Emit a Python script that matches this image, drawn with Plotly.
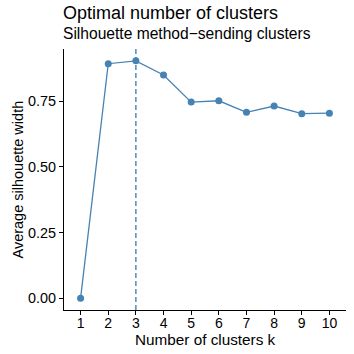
import plotly.graph_objects as go

k_values = [1, 2, 3, 4, 5, 6, 7, 8, 9, 10]
silhouette = [0.0, 0.892, 0.903, 0.849, 0.746, 0.751, 0.707, 0.731, 0.702, 0.704]
optimal_k = 3
y_ticks = [0.0, 0.25, 0.5, 0.75]
y_tick_labels = ["0.00", "0.25", "0.50", "0.75"]

title_text = "Optimal number of clusters"
subtitle_text = "Silhouette method\u2212sending clusters"
x_title = "Number of clusters k"
y_title = "Average silhouette width"

color = "#4682B4"
font = "Liberation Sans, Arial, sans-serif"

fig = go.Figure()
fig.add_trace(go.Scatter(
    x=k_values, y=silhouette, mode="lines+markers",
    line=dict(color=color, width=1.3),
    marker=dict(color=color, size=7),
    showlegend=False, cliponaxis=False,
))
fig.add_shape(type="line", x0=optimal_k, x1=optimal_k, xref="x", y0=0, y1=1, yref="paper",
              line=dict(color=color, width=1.4, dash="5px,3px"))

fig.update_layout(
    width=354, height=354,
    margin=dict(l=64, r=8, t=49, b=44),
    paper_bgcolor="white", plot_bgcolor="white",
    font=dict(family=font, color="black"),
    annotations=[
        dict(text=title_text, x=0, y=1, xref="paper", yref="paper",
             xanchor="left", yanchor="middle", yshift=36, xshift=-3, showarrow=False,
             font=dict(size=18, color="black")),
        dict(text=subtitle_text, x=0, y=1, xref="paper", yref="paper",
             xanchor="left", yanchor="middle", yshift=16, xshift=-3, showarrow=False,
             font=dict(size=15.6, color="black")),
        dict(text=x_title, x=0.5, y=0, xref="paper", yref="paper",
             xanchor="center", yanchor="middle", yshift=-29, showarrow=False,
             font=dict(size=15.3, color="black")),
        dict(text=y_title, x=0, y=0.5, xref="paper", yref="paper", textangle=-90,
             xanchor="center", yanchor="middle", xshift=-47, showarrow=False,
             font=dict(size=14.5, color="black")),
    ],
)
fig.update_xaxes(
    range=[0.4, 10.6], tickmode="array", tickvals=k_values, ticktext=[str(k) for k in k_values],
    showline=True, linecolor="black", linewidth=1, ticks="outside", ticklen=4, tickcolor="black",
    showgrid=False, zeroline=False, tickfont=dict(size=14, color="black"),
    automargin=False, ticklabelstandoff=-4,
)
fig.update_yaxes(
    range=[-0.045, 0.948], tickmode="array", tickvals=y_ticks, ticktext=y_tick_labels,
    showline=True, linecolor="black", linewidth=1, ticks="outside", ticklen=4, tickcolor="black",
    showgrid=False, zeroline=False, tickfont=dict(size=14.4, color="black"),
    automargin=False,
)
fig.write_html("out.html", config={"displayModeBar": False},
               post_script="document.body.style.margin='0px';")
